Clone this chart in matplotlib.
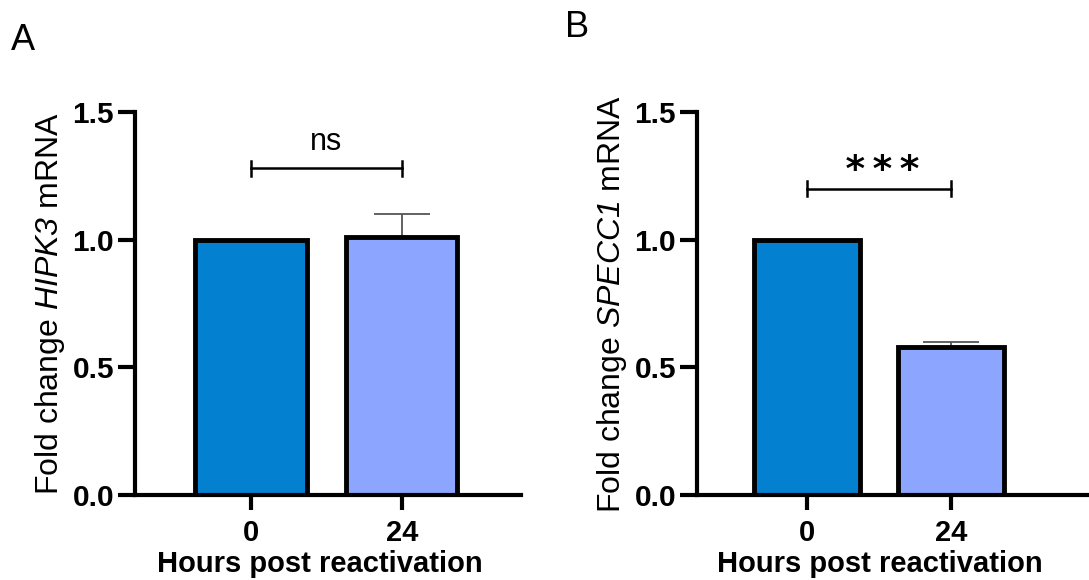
import matplotlib
matplotlib.use('Agg')
import matplotlib.pyplot as plt

plt.rcParams['font.family'] = ['Liberation Sans', 'DejaVu Sans']
plt.rcParams['mathtext.fontset'] = 'custom'
plt.rcParams['mathtext.rm'] = 'Liberation Sans:italic'
plt.rcParams['mathtext.it'] = 'Liberation Sans:italic'

HOURS = ["0", "24"]
HIPK3_MEAN = [1.0, 1.01]
HIPK3_ERR = [0.0, 0.09]
SPECC1_MEAN = [1.0, 0.58]
SPECC1_ERR = [0.0, 0.02]
BAR_COLORS = ["#0480D0", "#8CA5FF"]
Y_TICKS = [0.0, 0.5, 1.0, 1.5]


def draw_panel(ax, means, errs, gene, sig_text, sig_y, text_y, text_kw, xlim, xlab_x):
    x = list(range(len(HOURS)))
    ax.bar(x, means, width=0.74, color=BAR_COLORS, edgecolor="black",
           linewidth=3.5, zorder=2)
    for xi, m, e in zip(x, means, errs):
        if e > 0:
            ax.errorbar(xi, m, yerr=[[0], [e]], color="#555555", elinewidth=1.3,
                        capsize=20, capthick=1.3, zorder=1)
    # significance bracket
    ax.plot([0, 1], [sig_y, sig_y], color="black", lw=1.8, clip_on=False)
    for xi in x:
        ax.plot([xi, xi], [sig_y - 0.03, sig_y + 0.03], color="black", lw=1.8,
                clip_on=False)
    ax.text(0.5, text_y, sig_text, ha="center", va="center", **text_kw)

    ax.set_xlim(*xlim)
    ax.set_ylim(0, 1.5)
    ax.set_xticks(x)
    ax.set_xticklabels(HOURS)
    ax.set_yticks(Y_TICKS)
    ax.set_yticklabels([f"{t:.1f}" for t in Y_TICKS])
    for spine in ["top", "right"]:
        ax.spines[spine].set_visible(False)
    for spine in ["left", "bottom"]:
        ax.spines[spine].set_linewidth(3)
    ax.tick_params(axis="y", length=12, width=3, labelsize=21.5, pad=3)
    ax.tick_params(axis="x", length=11, width=3, labelsize=21, pad=6)
    for lab in ax.get_xticklabels() + ax.get_yticklabels():
        lab.set_fontweight("bold")
    ax.set_xlabel("Hours post reactivation", fontsize=21, fontweight="bold")
    ax.xaxis.set_label_coords(xlab_x, -0.145)
    ax.set_ylabel(f"Fold change $\\mathrm{{{gene}}}$ mRNA", fontsize=23,
                  labelpad=4)


fig = plt.figure(figsize=(10.89, 5.8), dpi=100)
ax_a = fig.add_axes([0.124, 0.1466, 0.354, 0.660])
ax_b = fig.add_axes([0.640, 0.1466, 0.360, 0.660])

draw_panel(ax_a, HIPK3_MEAN, HIPK3_ERR, "HIPK3", "ns", 1.28, 1.385,
           {"fontsize": 22}, (-0.768, 1.788), 0.48)
draw_panel(ax_b, SPECC1_MEAN, SPECC1_ERR, "SPECC1", "\u2009*\u2009*\u2009*", 1.20, 1.27,
           {"fontsize": 27, "fontweight": "bold", "family": "DejaVu Sans"},
           (-0.764, 1.958), 0.467)

fig.text(0.010, 0.914, "A", fontsize=26)
fig.text(0.519, 0.936, "B", fontsize=26)

fig.savefig("out.png", dpi=100)
